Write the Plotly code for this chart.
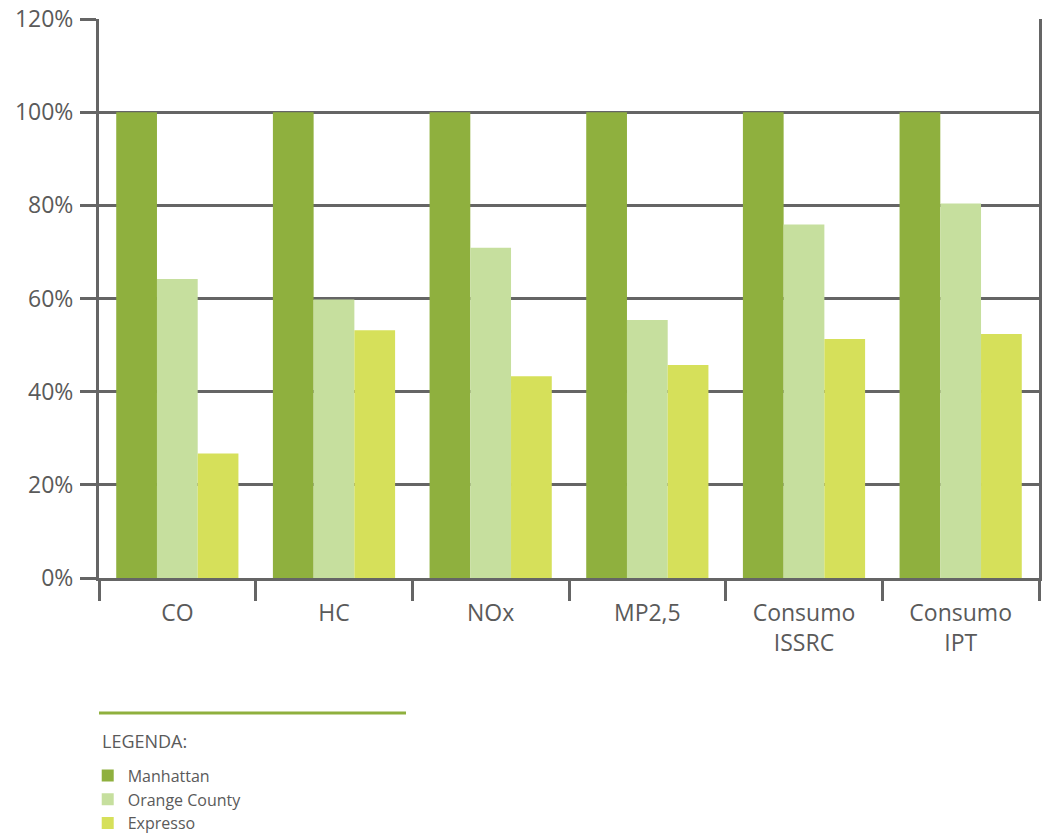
import plotly.graph_objects as go

categories = ["CO", "HC", "NOx", "MP2,5", "Consumo<br>ISSRC", "Consumo<br>IPT"]
manhattan = [100, 100, 100, 100, 100, 100]
orange_county = [64.2, 59.8, 70.9, 55.4, 75.9, 80.4]
expresso = [26.7, 53.2, 43.3, 45.7, 51.3, 52.4]
y_ticks = [0, 20, 40, 60, 80, 100, 120]
y_tick_labels = ["0%", "20%", "40%", "60%", "80%", "100%", "120%"]

FONT = "Open Sans"
GRID = "#656565"
TXT = "#5a5a5a"

fig = go.Figure()
fig.add_trace(go.Bar(x=categories, y=manhattan, name="Manhattan", marker_color="#8fb03e", marker_line_width=0))
fig.add_trace(go.Bar(x=categories, y=orange_county, name="Orange County", marker_color="#c6df9e", marker_line_width=0))
fig.add_trace(go.Bar(x=categories, y=expresso, name="Expresso", marker_color="#d6e05a", marker_line_width=0))

fig.update_layout(
    width=1043, height=837,
    margin=dict(l=99, r=4, t=19, b=259, autoexpand=False),
    paper_bgcolor="white", plot_bgcolor="white",
    barmode="group", bargap=0.22, bargroupgap=0,
    font=dict(family=FONT, color=TXT),
    showlegend=True,
    legend=dict(
        x=-0.012, y=-0.323, xanchor="left", yanchor="top",
        font=dict(size=16, color=TXT, family=FONT),
        bgcolor="rgba(0,0,0,0)", tracegroupgap=0,
    ),
    xaxis=dict(
        type="category", tickson="boundaries", ticks="outside", ticklen=20,
        tickwidth=3, tickcolor=GRID, showline=True, linecolor=GRID, linewidth=3,
        tickfont=dict(size=23, color=TXT, family=FONT), showgrid=False,
        mirror=False, ticklabelstandoff=12,
    ),
    yaxis=dict(
        range=[0, 120], tickmode="array", tickvals=y_ticks, ticktext=y_tick_labels,
        ticks="outside", ticklen=16, tickwidth=3, tickcolor=GRID,
        showgrid=True, gridcolor=GRID, gridwidth=3,
        showline=True, linecolor=GRID, linewidth=3, mirror=True,
        zeroline=False, tickfont=dict(size=23, color=TXT, family=FONT),
        ticklabelstandoff=2,
    ),
)

fig.add_shape(type="line", xref="paper", yref="paper", x0=0, x1=0.3266, y0=-0.2415, y1=-0.2415,
              line=dict(color="#8fb03e", width=3))
fig.add_annotation(text="LEGENDA:", xref="paper", yref="paper", x=0.001, y=-0.2916,
                   xanchor="left", yanchor="middle", showarrow=False,
                   font=dict(size=18, color=TXT, family=FONT))

fig.write_html("out.html")
